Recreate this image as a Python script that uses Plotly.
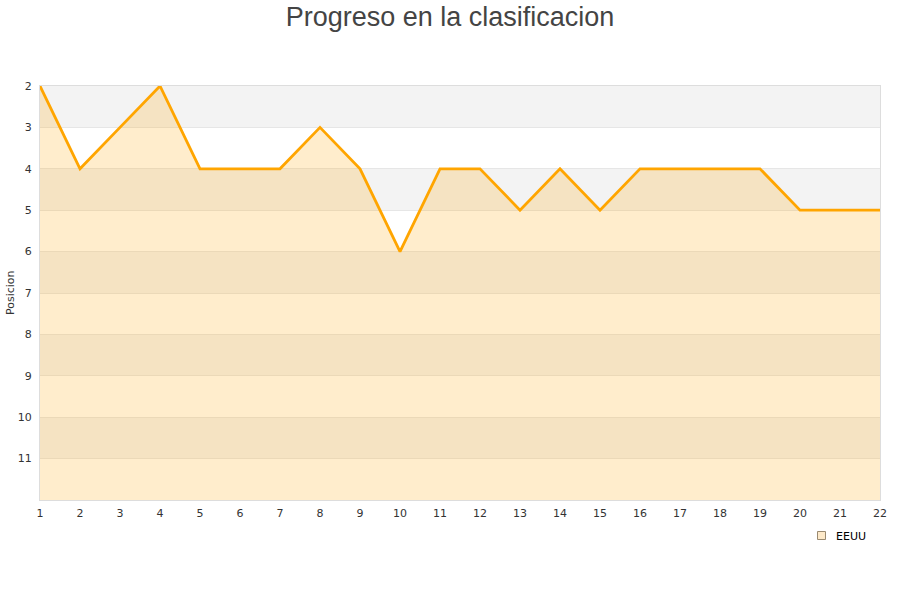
import plotly.graph_objects as go

jornadas = list(range(1, 23))
posiciones = [2, 4, 3, 2, 4, 4, 4, 3, 4, 6, 4, 4, 5, 4, 5, 4, 4, 4, 4, 5, 5, 5]
y_ticks = list(range(2, 12))
serie = "EEUU"
titulo = "Progreso en la clasificacion"
y_titulo = "Posicion"

y_min, y_max = 2, 12

W, H = 900, 600
ML, MR, MT, MB = 40, 20, 86, 100
PW, PH = W - ML - MR, H - MT - MB


def px_x(x):
    return (x - ML) / PW


def px_y(y):
    return (H - MB - y) / PH


fig = go.Figure()

# baseline for filling down to the bottom (position 12)
fig.add_trace(go.Scatter(x=jornadas, y=[y_max] * len(jornadas), mode="lines",
                         line=dict(width=0), showlegend=False, hoverinfo="skip"))
fig.add_trace(go.Scatter(x=jornadas, y=posiciones, mode="lines", fill="tonexty",
                         fillcolor="rgba(255,165,0,0.2)",
                         line=dict(color="#FFA500", width=2.8), showlegend=False, name=serie))

# alternating bands
shapes = []
for k in range(y_min, y_max):
    if (k - y_min) % 2 == 0:
        shapes.append(dict(type="rect", xref="paper", yref="y", x0=0, x1=1, y0=k, y1=k + 1,
                           fillcolor="#f3f3f3", line=dict(width=0), layer="below"))

# legend symbol
shapes.append(dict(type="rect", xref="paper", yref="paper",
                   x0=px_x(817.5), x1=px_x(825.5), y0=px_y(539.5), y1=px_y(531.5),
                   fillcolor="#fde9c9", line=dict(color="#9a8a70", width=1)))

annotations = [
    dict(text=y_titulo, xref="paper", yref="paper", x=px_x(10), y=0.5,
         xanchor="center", yanchor="middle", textangle=-90, showarrow=False,
         font=dict(size=11, color="#333")),
    dict(text=serie, xref="paper", yref="paper", x=px_x(834), y=px_y(536),
         xanchor="left", yanchor="middle", showarrow=False,
         font=dict(size=11, color="#000")),
]

fig.update_layout(
    width=W, height=H,
    title=dict(text=titulo, x=0.5, xanchor="center", y=0.973, yanchor="middle",
               font=dict(family="Liberation Sans, Arial, sans-serif", size=27, color="#444")),
    plot_bgcolor="white", paper_bgcolor="white",
    margin=dict(l=ML, r=MR, t=MT, b=MB, autoexpand=False),
    shapes=shapes,
    annotations=annotations,
    font=dict(family="DejaVu Sans, sans-serif", size=11, color="#333"),
    showlegend=False,
    xaxis=dict(range=[1, 22], tickmode="array", tickvals=jornadas, showgrid=False,
               showline=True, linecolor="#dddddd", mirror=True, zeroline=False,
               automargin=False, ticks="", ticklabelstandoff=3,
               tickfont=dict(size=11, color="#333")),
    yaxis=dict(range=[y_max, y_min], tickmode="array", tickvals=y_ticks, showgrid=True,
               gridcolor="#e6e6e6", showline=True, linecolor="#dddddd", mirror=True,
               zeroline=False, automargin=False, ticks="", ticklabelstandoff=5,
               tickfont=dict(size=11, color="#333")),
)

fig.write_html("out.html", config={"displayModeBar": False},
               post_script="document.body.style.margin='0px';")
